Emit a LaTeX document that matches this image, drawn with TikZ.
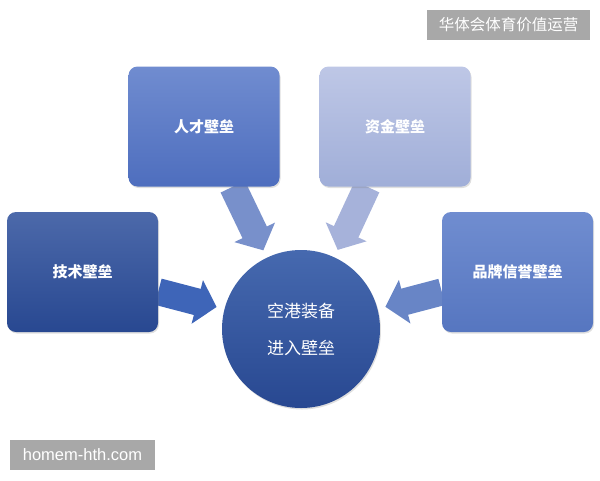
\documentclass[tikz,border=0pt]{standalone}
\usepackage{fontspec}
\newfontfamily\cjk{Noto Sans CJK SC}
\newfontfamily\lsans{Liberation Sans}
\usetikzlibrary{arrows.meta,shadows,backgrounds}
\definecolor{jsT}{RGB}{76,105,170}
\definecolor{jsB}{RGB}{40,72,145}
\definecolor{rcT}{RGB}{112,140,208}
\definecolor{rcB}{RGB}{78,110,190}
\definecolor{zjT}{RGB}{190,199,230}
\definecolor{zjB}{RGB}{160,174,216}
\definecolor{ppT}{RGB}{112,141,208}
\definecolor{ppB}{RGB}{86,118,192}
\definecolor{hubT}{RGB}{70,105,175}
\definecolor{hubB}{RGB}{40,72,145}
\definecolor{arJS}{RGB}{62,101,184}
\definecolor{arRC}{RGB}{120,144,203}
\definecolor{arZJ}{RGB}{166,178,218}
\definecolor{arPP}{RGB}{104,133,198}
\definecolor{tagGray}{RGB}{168,168,168}
\begin{document}
\begin{tikzpicture}[x=1pt,y=-1pt,
  box/.style={rectangle, rounded corners=9pt, minimum width=151pt, minimum height=120pt,
    text=white, font=\cjk\bfseries\fontsize{15}{18}\selectfont,
    drop shadow={opacity=0.25, shadow xshift=1pt, shadow yshift=-1.5pt}},
  blockarrow/.style={line width=27pt, -{Triangle[width=44pt,length=20pt]}, shorten >=8pt},
  tag/.style={fill=tagGray, text=white, inner sep=0pt, minimum height=30pt}]
\useasboundingbox (0,0) rectangle (600,480);

\node[box, top color=jsT, bottom color=jsB] (jishu) at (82.5,272) {技术壁垒};
\node[box, top color=rcT, bottom color=rcB] (rencai) at (204,126.5) {人才壁垒};
\node[box, top color=zjT, bottom color=zjB] (zijin) at (395,126.5) {资金壁垒};
\node[box, top color=ppT, bottom color=ppB] (pinpai) at (517.5,272) {品牌信誉壁垒};
\node[circle, minimum size=158pt, inner sep=0pt, top color=hubT, bottom color=hubB,
  text=white, align=center, font=\cjk\fontsize{17}{37}\selectfont,
  drop shadow={opacity=0.25, shadow xshift=1pt, shadow yshift=-1.5pt}] (hub) at (301,329) {空港装备\\进入壁垒};

\begin{scope}[on background layer]
  \draw[blockarrow, arJS] (jishu) -- (hub);
  \draw[blockarrow, arRC] (rencai) -- (hub);
  \draw[blockarrow, arZJ] (zijin) -- (hub);
  \draw[blockarrow, arPP] (pinpai) -- (hub);
\end{scope}

\node[tag, minimum width=163pt, font=\cjk\fontsize{15.5}{18}\selectfont] (brand) at (508.5,25) {华体会体育价值运营};
\node[tag, minimum width=145pt, font=\lsans\fontsize{16.5}{18}\selectfont] (site) at (82.5,455) {homem-hth.com};
\end{tikzpicture}
\end{document}
